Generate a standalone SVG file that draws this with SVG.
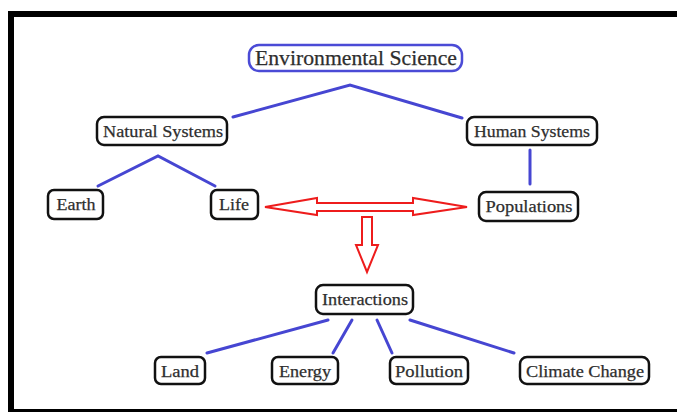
<svg xmlns="http://www.w3.org/2000/svg" width="677" height="412" viewBox="0 0 677 412">
<style>
.box{fill:#fff;stroke:#111;stroke-width:2.5}
.top{fill:#fff;stroke:#4b4bd6;stroke-width:2.5}
.t{font-family:"Liberation Serif","Times New Roman",serif;fill:#2e2e2e;text-anchor:middle;stroke:#2e2e2e;stroke-width:0.25}
.ln{stroke:#4646d2;stroke-width:3;fill:none;stroke-linecap:round}
.ar{fill:#fff;stroke:#ee1c1c;stroke-width:2;stroke-linejoin:miter}
</style>
<rect width="677" height="412" fill="#fff"/>
<rect x="11" y="14" width="680" height="398" fill="none" stroke="#000" stroke-width="6"/>
<g id="connectors">
<polyline class="ln" points="233,117 350,85 462,118"/>
<polyline class="ln" points="98,186 158,156 215,186"/>
<line class="ln" x1="530" y1="150" x2="530" y2="184"/>
<line class="ln" x1="328" y1="320" x2="207" y2="353"/>
<line class="ln" x1="352" y1="320" x2="333" y2="353"/>
<line class="ln" x1="377" y1="320" x2="392" y2="353"/>
<line class="ln" x1="410" y1="320" x2="514" y2="353"/>
<polygon class="ar" points="265,207 317,198 317,203 413,203 413,198 467,207 413,215 413,211 317,211 317,215"/>
<polygon class="ar" points="362,217 372,217 372,245 378,245 367,272 356,245 362,245"/>
</g>
<g id="n-envsci"><rect class="top" x="249" y="45" width="213" height="26" rx="10"/><text class="t" x="356" y="65" font-size="21" textLength="202" lengthAdjust="spacingAndGlyphs">Environmental Science</text></g>
<g id="n-natural"><rect class="box" x="97" y="117" width="130" height="28" rx="7"/><text class="t" x="163" y="137" font-size="17" textLength="120" lengthAdjust="spacingAndGlyphs">Natural Systems</text></g>
<g id="n-human"><rect class="box" x="467" y="117" width="130" height="28" rx="7"/><text class="t" x="532" y="137" font-size="17" textLength="116" lengthAdjust="spacingAndGlyphs">Human Systems</text></g>
<g id="n-earth"><rect class="box" x="48" y="190" width="55" height="29" rx="6"/><text class="t" x="76" y="210" font-size="17" textLength="39" lengthAdjust="spacingAndGlyphs">Earth</text></g>
<g id="n-life"><rect class="box" x="211" y="190" width="47" height="29" rx="6"/><text class="t" x="234" y="210" font-size="17" textLength="30" lengthAdjust="spacingAndGlyphs">Life</text></g>
<g id="n-populations"><rect class="box" x="479" y="192" width="99" height="29" rx="7"/><text class="t" x="529" y="212" font-size="17" textLength="87" lengthAdjust="spacingAndGlyphs">Populations</text></g>
<g id="n-interactions"><rect class="box" x="316" y="285" width="97" height="29" rx="7"/><text class="t" x="365" y="305" font-size="17" textLength="86" lengthAdjust="spacingAndGlyphs">Interactions</text></g>
<g id="n-land"><rect class="box" x="155" y="357" width="50" height="27" rx="6"/><text class="t" x="180" y="377" font-size="17" textLength="38" lengthAdjust="spacingAndGlyphs">Land</text></g>
<g id="n-energy"><rect class="box" x="272" y="357" width="66" height="27" rx="6"/><text class="t" x="305" y="377" font-size="17" textLength="52" lengthAdjust="spacingAndGlyphs">Energy</text></g>
<g id="n-pollution"><rect class="box" x="390" y="357" width="78" height="27" rx="6"/><text class="t" x="429" y="377" font-size="17" textLength="68" lengthAdjust="spacingAndGlyphs">Pollution</text></g>
<g id="n-climate"><rect class="box" x="520" y="357" width="129" height="27" rx="7"/><text class="t" x="585" y="377" font-size="17" textLength="118" lengthAdjust="spacingAndGlyphs">Climate Change</text></g>
</svg>
